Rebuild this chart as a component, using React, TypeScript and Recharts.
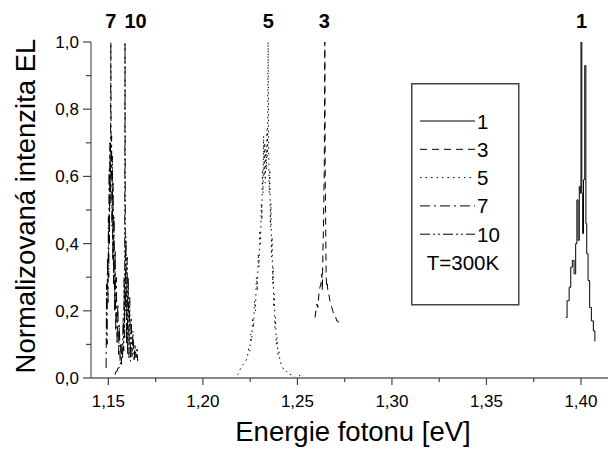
import React from "react";
import { LineChart, Line, XAxis, YAxis, Legend, ReferenceDot } from "recharts";

// energy [eV] and normalized EL intensity
const energy1 = [1.392, 1.3933, 1.3942, 1.395, 1.3959, 1.3968, 1.3976, 1.3981, 1.3988, 1.3994, 1.3998, 1.4002, 1.4007, 1.4011, 1.4016, 1.4024, 1.4028, 1.4033, 1.4042, 1.405, 1.406, 1.4071, 1.4076];
const intensity1 = [0.18, 0.23, 0.27, 0.33, 0.35, 0.31, 0.4, 0.53, 0.41, 0.57, 0.55, 1.0, 0.55, 0.43, 0.59, 0.93, 0.46, 0.37, 0.29, 0.21, 0.17, 0.14, 0.11];

const energy3 = [1.2593, 1.2598, 1.2603, 1.2608, 1.2614, 1.2619, 1.2624, 1.2629, 1.2632, 1.2635, 1.2638, 1.264, 1.2642, 1.2645, 1.2647, 1.265, 1.2652, 1.2655, 1.2658, 1.2661, 1.2666, 1.2672, 1.2677, 1.2682, 1.2687, 1.2693, 1.2698, 1.2703, 1.2708, 1.2714, 1.272, 1.2725];
const intensity3 = [0.18, 0.2, 0.22, 0.21, 0.25, 0.27, 0.28, 0.31, 0.26, 0.38, 0.45, 0.55, 0.62, 1.0, 0.6, 0.42, 0.3, 0.27, 0.28, 0.26, 0.25, 0.23, 0.22, 0.21, 0.2, 0.19, 0.19, 0.18, 0.17, 0.17, 0.16, 0.16];

const energy5 = [1.216, 1.2185, 1.22, 1.2212, 1.2225, 1.2235, 1.2242, 1.2248, 1.2253, 1.2258, 1.2263, 1.2268, 1.2273, 1.2278, 1.2283, 1.2288, 1.2293, 1.2297, 1.2301, 1.2305, 1.2309, 1.2312, 1.2315, 1.2318, 1.2321, 1.2324, 1.2327, 1.233, 1.2333, 1.2336, 1.2339, 1.2342, 1.2345, 1.2348, 1.2351, 1.2354, 1.2357, 1.236, 1.2363, 1.2366, 1.2369, 1.2372, 1.2375, 1.2378, 1.2381, 1.2384, 1.2388, 1.2392, 1.2397, 1.2402, 1.2408, 1.2415, 1.2423, 1.2432, 1.2442, 1.2455, 1.247, 1.249, 1.252];
const intensity5 = [0.0, 0.01, 0.03, 0.04, 0.05, 0.06, 0.09, 0.08, 0.13, 0.11, 0.18, 0.15, 0.23, 0.2, 0.3, 0.26, 0.37, 0.33, 0.44, 0.4, 0.52, 0.47, 0.62, 0.55, 0.72, 0.6, 0.7, 0.58, 0.68, 0.62, 0.74, 0.66, 1.0, 0.68, 0.55, 0.62, 0.45, 0.52, 0.36, 0.42, 0.28, 0.33, 0.21, 0.25, 0.15, 0.18, 0.1, 0.12, 0.07, 0.08, 0.05, 0.04, 0.03, 0.02, 0.02, 0.01, 0.01, 0.0, 0.01];

const energy7 = [1.1488, 1.149, 1.1493, 1.1495, 1.1498, 1.15, 1.1502, 1.1504, 1.1506, 1.1508, 1.151, 1.1512, 1.1513, 1.1515, 1.1517, 1.1519, 1.1521, 1.1523, 1.1525, 1.1527, 1.153, 1.1533, 1.1536, 1.1539, 1.1542, 1.1546, 1.155, 1.1554, 1.1558, 1.1562, 1.1566, 1.157];
const intensity7 = [0.03, 0.28, 0.1, 0.36, 0.22, 0.48, 0.3, 0.62, 0.4, 0.7, 0.52, 0.75, 1.0, 0.6, 0.72, 0.45, 0.66, 0.35, 0.58, 0.28, 0.48, 0.2, 0.38, 0.14, 0.3, 0.1, 0.22, 0.07, 0.16, 0.05, 0.1, 0.04];

const energy10 = [1.1535, 1.1541, 1.1546, 1.1551, 1.1557, 1.1562, 1.1567, 1.1572, 1.1575, 1.1578, 1.1581, 1.1583, 1.1586, 1.1588, 1.159, 1.1593, 1.1596, 1.1599, 1.1602, 1.1605, 1.1609, 1.1613, 1.1617, 1.1621, 1.1625, 1.163, 1.1636, 1.1641, 1.1646, 1.1652, 1.1655];
const intensity10 = [0.01, 0.02, 0.02, 0.03, 0.03, 0.04, 0.05, 0.1, 0.06, 0.18, 0.08, 0.3, 0.12, 1.0, 0.2, 0.42, 0.1, 0.36, 0.07, 0.3, 0.06, 0.24, 0.05, 0.18, 0.06, 0.14, 0.05, 0.1, 0.06, 0.09, 0.05];

const seriesNames = ["1", "3", "5", "7", "10"];
const peakLabelEnergy = [1.4003, 1.2642, 1.2346, 1.1513, 1.1644];

const xMajorTicks = [1.15, 1.2, 1.25, 1.3, 1.35, 1.4];
const xMinorTicks = [1.175, 1.225, 1.275, 1.325, 1.375];
const yMajorTicks = [0, 0.2, 0.4, 0.6, 0.8, 1.0];
const yMinorTicks = [0.1, 0.3, 0.5, 0.7, 0.9];

const zip = (xs: number[], ys: number[]) => xs.map((x, i) => ({ x, y: ys[i] }));

const series = [
  { name: seriesNames[0], data: zip(energy1, intensity1), dash: undefined, type: "step" },
  { name: seriesNames[1], data: zip(energy3, intensity3), dash: "7 5", type: "linear" },
  { name: seriesNames[2], data: zip(energy5, intensity5), dash: "1.5 4", type: "linear" },
  { name: seriesNames[3], data: zip(energy7, intensity7), dash: "10 4 2 4", type: "linear" },
  { name: seriesNames[4], data: zip(energy10, intensity10), dash: "10 3 2 3 2 3", type: "linear" },
];

const FONT = "'Liberation Sans', Arial, sans-serif";
const comma = (v: number, d: number) => v.toFixed(d).replace(".", ",");
const isIn = (arr: number[], v: number) => arr.some((a) => Math.abs(a - v) < 1e-6);

const XTick = ({ x, y, payload }: any) => {
  const major = isIn(xMajorTicks, payload.value);
  return (
    <g>
      <line x1={x} x2={x} y1={y} y2={y + (major ? 7 : 4)} stroke="#444" strokeWidth={1.2} />
      {major && (
        <text x={x} y={y + 29} textAnchor="middle" fontSize={17} fontFamily={FONT} fill="#000">
          {comma(payload.value, 2)}
        </text>
      )}
    </g>
  );
};

const YTick = ({ x, y, payload }: any) => {
  const major = isIn(yMajorTicks, payload.value);
  return (
    <g>
      <line x1={x} x2={x - (major ? 8 : 5)} y1={y} y2={y} stroke="#444" strokeWidth={1.2} />
      {major && (
        <text x={x - 12} y={y + 6} textAnchor="end" fontSize={17} fontFamily={FONT} fill="#000">
          {comma(payload.value, 1)}
        </text>
      )}
    </g>
  );
};

const LegendBox = () => (
  <svg width={109} height={223} style={{ display: "block" }}>
    <rect x={0.75} y={0.75} width={107} height={221} fill="#fff" stroke="#444" strokeWidth={1.5} />
    {series.map((s, i) => {
      const rowY = 38 + i * 28.3;
      return (
        <g key={s.name}>
          <line x1={9} x2={64} y1={rowY} y2={rowY} stroke="#000" strokeWidth={1} strokeDasharray={s.dash} />
          <text x={66} y={rowY + 7.5} fontSize={20.5} fontFamily={FONT} fill="#000">
            {s.name}
          </text>
        </g>
      );
    })}
    <text x={52} y={187} textAnchor="middle" fontSize={20.5} fontFamily={FONT} fill="#000">
      T=300K
    </text>
  </svg>
);

export default function App() {
  return (
    <div style={{ position: "absolute", left: 0, top: 0, width: 610, height: 450, background: "#fff" }}>
      <LineChart width={610} height={450} margin={{ top: 42, right: 2, left: 31, bottom: 0 }}>
        <XAxis
          type="number"
          dataKey="x"
          domain={[1.1408, 1.4143]}
          allowDataOverflow
          ticks={[...xMajorTicks, ...xMinorTicks].sort((a, b) => a - b)}
          interval={0}
          tickSize={0}
          tickMargin={0}
          tickLine={false}
          tick={<XTick />}
          axisLine={{ stroke: "#888", strokeWidth: 2 }}
          height={72}
          label={{
            content: () => (
              <text x={353} y={441} textAnchor="middle" fontSize={27.5} fontFamily={FONT} fill="#000">
                Energie fotonu [eV]
              </text>
            ),
          }}
        />
        <YAxis
          type="number"
          dataKey="y"
          domain={[0, 1]}
          allowDataOverflow
          ticks={[...yMajorTicks, ...yMinorTicks].sort((a, b) => a - b)}
          interval={0}
          tickSize={0}
          tickMargin={0}
          tickLine={false}
          tick={<YTick />}
          axisLine={{ stroke: "#777", strokeWidth: 1.5 }}
          width={60}
          label={{
            content: () => (
              <text
                x={35}
                y={206}
                transform="rotate(-90, 35, 206)"
                textAnchor="middle"
                fontSize={27.5}
                fontFamily={FONT}
                fill="#000"
              >
                Normalizovaná intenzita EL
              </text>
            ),
          }}
        />
        <Legend
          layout="vertical"
          align="center"
          verticalAlign="middle"
          content={() => <LegendBox />}
          wrapperStyle={{ left: 411, top: 83, width: 109, height: 223 }}
        />
        {series.map((s) => (
          <Line
            key={s.name}
            name={s.name}
            data={s.data}
            dataKey="y"
            type={s.type as any}
            stroke="#000"
            strokeWidth={1}
            strokeDasharray={s.dash}
            dot={false}
            activeDot={false}
            isAnimationActive={false}
          />
        ))}
        {series.map((s, i) => (
          <ReferenceDot
            key={`lbl-${s.name}`}
            x={peakLabelEnergy[i]}
            y={1}
            r={0}
            fill="none"
            stroke="none"
            label={{
              value: s.name,
              position: "top",
              offset: 14,
              fontSize: 20,
              fontWeight: "bold",
              fontFamily: FONT,
              fill: "#000",
            }}
          />
        ))}
      </LineChart>
    </div>
  );
}
